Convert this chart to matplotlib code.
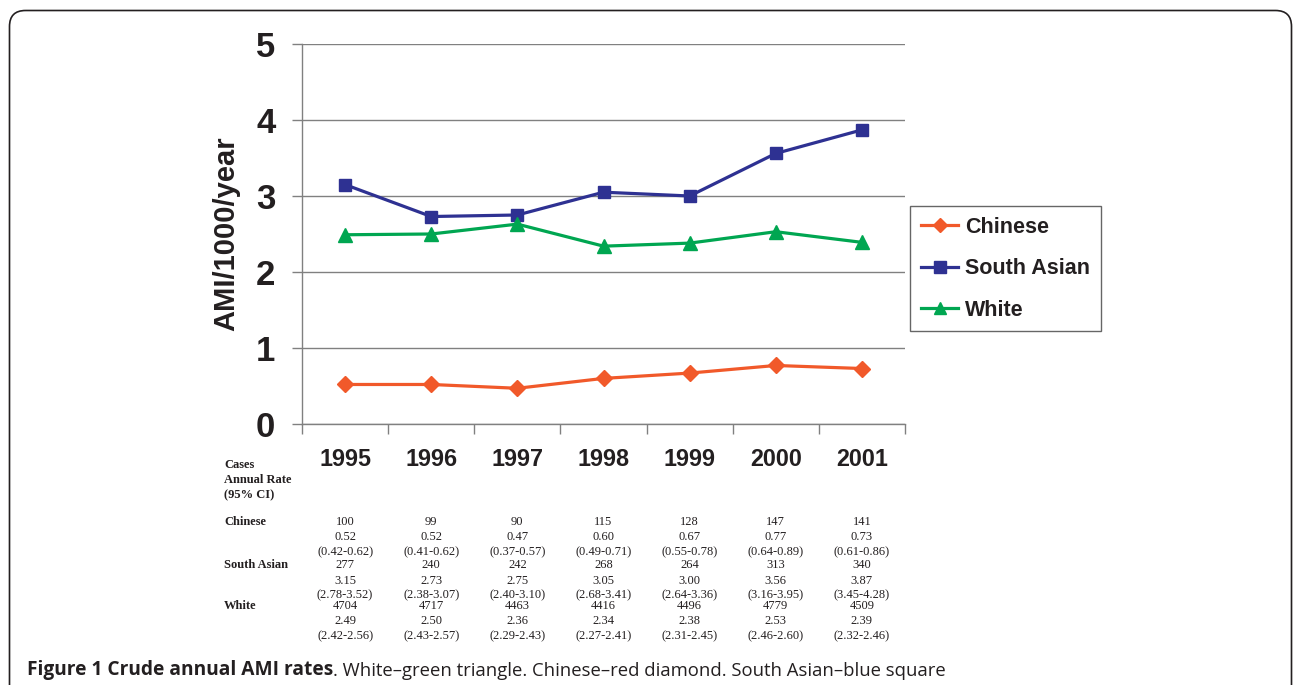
import matplotlib
matplotlib.use('Agg')
import matplotlib.pyplot as plt
from matplotlib.patches import FancyBboxPatch
from matplotlib.ticker import FixedLocator

# ── Data ──
years = ['1995', '1996', '1997', '1998', '1999', '2000', '2001']
chinese_rate = [0.52, 0.52, 0.47, 0.60, 0.67, 0.77, 0.73]
south_asian_rate = [3.15, 2.73, 2.75, 3.05, 3.00, 3.56, 3.87]
white_rate_plotted = [2.49, 2.50, 2.63, 2.34, 2.38, 2.53, 2.39]

chinese_cases = [100, 99, 90, 115, 128, 147, 141]
south_asian_cases = [277, 240, 242, 268, 264, 313, 340]
white_cases = [4704, 4717, 4463, 4416, 4496, 4779, 4509]
white_rate_table = [2.49, 2.50, 2.36, 2.34, 2.38, 2.53, 2.39]

chinese_ci = ['(0.42-0.62)', '(0.41-0.62)', '(0.37-0.57)', '(0.49-0.71)',
              '(0.55-0.78)', '(0.64-0.89)', '(0.61-0.86)']
south_asian_ci = ['(2.78-3.52)', '(2.38-3.07)', '(2.40-3.10)', '(2.68-3.41)',
                  '(2.64-3.36)', '(3.16-3.95)', '(3.45-4.28)']
white_ci = ['(2.42-2.56)', '(2.43-2.57)', '(2.29-2.43)', '(2.27-2.41)',
            '(2.31-2.45)', '(2.46-2.60)', '(2.32-2.46)']

# ── Palette ──
RED = '#F1592A'
BLUE = '#2E3192'
GREEN = '#00A651'
GRID = '#808080'
INK = '#231F20'

W, H = 1296, 685
fig = plt.figure(figsize=(W / 100, H / 100), dpi=100)
fig.patch.set_facecolor('white')

# overlay in pixel coordinates (frame, table, caption)
ov = fig.add_axes([0, 0, 1, 1], zorder=0)
ov.set_xlim(0, W)
ov.set_ylim(H, 0)
ov.axis('off')
ov.add_patch(FancyBboxPatch((9.5, 10.5), 1282, 720,
                            boxstyle='round,pad=0,rounding_size=16',
                            fc='none', ec=INK, lw=1.2, clip_on=True))

# ── Main chart ──
ax = fig.add_axes([302 / W, 1 - 424 / H, 603 / W, 380 / H], zorder=1)
x = list(range(len(years)))
ax.plot(x, chinese_rate, color=RED, lw=2.3, marker='D', ms=8,
        label='Chinese', clip_on=False)
ax.plot(x, south_asian_rate, color=BLUE, lw=2.3, marker='s', ms=9,
        label='South Asian', clip_on=False)
ax.plot(x, white_rate_plotted, color=GREEN, lw=2.3, marker='^', ms=9.5,
        label='White', clip_on=False)

ax.set_xlim(-0.5, len(years) - 0.5)
ax.set_ylim(0, 5)
ax.set_yticks([0, 1, 2, 3, 4, 5])
ax.yaxis.grid(True, color=GRID, lw=1.0)
ax.set_axisbelow(True)
for s in ('top', 'right'):
    ax.spines[s].set_visible(False)
for s in ('left', 'bottom'):
    ax.spines[s].set_color(GRID)
    ax.spines[s].set_linewidth(1.0)

ax.set_xticks(x)
ax.set_xticklabels(years)
ax.xaxis.set_minor_locator(FixedLocator([i - 0.5 for i in range(len(years) + 1)]))
ax.tick_params(axis='x', which='major', length=0, pad=17)
ax.tick_params(axis='x', which='minor', length=7.2, width=1.0, color=GRID)
ax.tick_params(axis='y', length=7.2, width=1.0, color=GRID, pad=12)
for lab in ax.get_xticklabels():
    lab.set_fontfamily('Liberation Sans')
    lab.set_fontweight('bold')
    lab.set_fontsize(16.8)
    lab.set_color(INK)
for lab in ax.get_yticklabels():
    lab.set_fontfamily('Liberation Sans')
    lab.set_fontweight('bold')
    lab.set_fontsize(25)
    lab.set_color(INK)

ax.set_ylabel('AMI/1000/year', fontfamily='Liberation Sans', fontweight='bold',
              fontsize=21, color=INK)
ax.yaxis.set_label_coords(-0.102, 0.5)

leg = fig.legend(loc='upper left', bbox_to_anchor=(910 / W, 1 - 206 / H),
                 borderaxespad=0, fancybox=False, frameon=True,
                 prop={'family': 'Liberation Sans', 'weight': 'bold', 'size': 15.5},
                 handlelength=1.75, handletextpad=0.3, labelspacing=0.95,
                 borderpad=0.5, markerscale=0.9)
leg.get_frame().set_edgecolor('#404040')
leg.get_frame().set_linewidth(1.0)
for t in leg.get_texts():
    t.set_color(INK)

# ── Table under the chart ──
SERIF = 'Liberation Serif'
lab_x = 224


def tx(px, py, s, bold=False, ha='center'):
    ov.text(px, py, s, ha=ha, va='center', fontfamily=SERIF, fontsize=9,
            fontweight='bold' if bold else 'normal', color=INK)


for py, s in [(465, 'Cases'), (480, 'Annual Rate'), (495, '(95% CI)')]:
    tx(lab_x, py, s, bold=True, ha='left')

groups = [
    ('Chinese', 522, chinese_cases, chinese_rate, chinese_ci),
    ('South Asian', 565, south_asian_cases, south_asian_rate, south_asian_ci),
    ('White', 606, white_cases, white_rate_table, white_ci),
]
for name, y0, cases, rates, cis in groups:
    tx(lab_x, y0, name, bold=True, ha='left')
    for i in x:
        cx = 302 + (i + 0.5) * 603 / len(years)
        tx(cx, y0, f'{cases[i]}')
        tx(cx, y0 + 15.5, f'{rates[i]:.2f}')
        tx(cx, y0 + 30.5, cis[i])

# ── Caption (font sizes fitted to the printed widths) ──
cap = ov.text(27, 669.5, 'Figure 1 Crude annual AMI rates', ha='left', va='center',
              fontfamily='Open Sans', fontweight='bold', fontsize=12.5, color=INK)
rest = ov.annotate('. White\u2013green triangle. Chinese\u2013red diamond. '
                   'South Asian\u2013blue square',
                   xy=(1, 0), xycoords=cap, ha='left', va='bottom',
                   fontfamily='Open Sans', fontsize=12.5, color=INK)
fig.canvas.draw()
r = fig.canvas.get_renderer()
cap.set_fontsize(12.5 * 306 / cap.get_window_extent(r).width)
fig.canvas.draw()
rest.set_fontsize(12.5 * 612 / rest.get_window_extent(r).width)

fig.savefig('out.png', dpi=100, facecolor='white')
